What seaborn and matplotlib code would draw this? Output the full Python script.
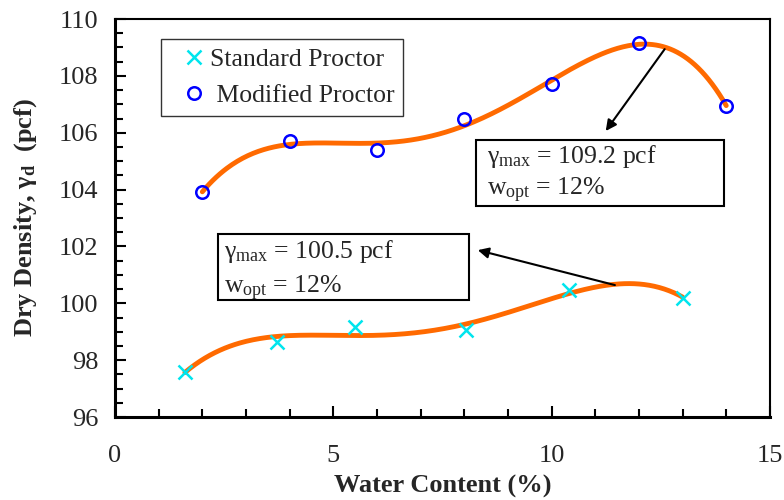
import numpy as np
import pandas as pd
import matplotlib
matplotlib.use('Agg')
import matplotlib.pyplot as plt
from matplotlib.patches import Rectangle
from matplotlib.ticker import MultipleLocator
import seaborn as sns

# values
std_w = [1.6, 3.7, 5.5, 8.05, 10.4, 13.0]
std_d = [97.6, 98.65, 99.15, 99.05, 100.45, 100.2]
mod_w = [2.0, 4.0, 6.0, 8.0, 10.0, 12.0, 14.0]
mod_d = [103.9, 105.7, 105.4, 106.5, 107.7, 109.15, 106.95]

sns.set_theme(style='ticks')
plt.rcParams['font.family'] = ['Liberation Serif', 'DejaVu Serif']
plt.rcParams['mathtext.fontset'] = 'custom'
plt.rcParams['mathtext.rm'] = 'Liberation Serif'
plt.rcParams['mathtext.it'] = 'Liberation Serif:italic'
plt.rcParams['mathtext.bf'] = 'Liberation Serif:bold'

std = pd.DataFrame({'w': std_w, 'd': std_d})
mod = pd.DataFrame({'w': mod_w, 'd': mod_d})

# smooth trendlines (polynomial fit of the points)
def trend(df, deg, n=300):
    c = np.polyfit(df['w'], df['d'], deg)
    x = np.linspace(df['w'].min(), df['w'].max(), n)
    return pd.DataFrame({'w': x, 'd': np.polyval(c, x)})

fig = plt.figure(figsize=(7.84, 5.0), dpi=100)
ax = fig.add_axes([0.1467, 0.166, 0.8353, 0.796])

orange = '#ff6a00'
sns.lineplot(data=trend(std, 4), x='w', y='d', ax=ax, color=orange, lw=3.5, zorder=2)
sns.lineplot(data=trend(mod, 4), x='w', y='d', ax=ax, color=orange, lw=3.5, zorder=2)
ax.plot(std['w'], std['d'], 'x', color='#00e5ee', ms=10, mew=1.8,
        label='Standard Proctor', zorder=3)
ax.plot(mod['w'], mod['d'], 'o', color='#0000ff', mfc='none', ms=9, mew=1.8,
        label=' Modified Proctor', zorder=3)

ax.set_xlim(0, 15)
ax.set_ylim(96, 110)
ax.xaxis.set_major_locator(MultipleLocator(5))
ax.xaxis.set_minor_locator(MultipleLocator(1))
ax.yaxis.set_major_locator(MultipleLocator(2))
ax.yaxis.set_minor_locator(MultipleLocator(0.5))
ax.tick_params(axis='x', which='both', direction='in', top=False, pad=20, labelsize=19)
ax.tick_params(axis='y', which='both', direction='in', right=False, pad=12, labelsize=19)
ax.tick_params(which='major', length=8, width=1.5, color='black')
ax.tick_params(which='minor', length=6, width=1.5, color='black')
for s in ['left', 'bottom']:
    ax.spines[s].set_linewidth(2.2)
for s in ['top', 'right']:
    ax.spines[s].set_linewidth(1.5)
for s in ax.spines.values():
    s.set_color('black')

ax.set_xlabel('Water Content (%)', fontsize=19, fontweight='bold', labelpad=6)
ax.set_ylabel(r'Dry Density, $\mathbf{\gamma_d}$  (pcf)', fontsize=19,
              fontweight='bold', labelpad=14)

leg = ax.legend(loc='upper left', bbox_to_anchor=(0.0702, 0.950), fontsize=18.5,
                frameon=True, fancybox=False, handletextpad=-0.35, borderpad=0.35,
                labelspacing=0.5, handlelength=1.9, borderaxespad=0)
leg.get_frame().set_edgecolor('black')
leg.get_frame().set_linewidth(1.0)

# annotation boxes
for x0, y0, w, h in [(8.27, 103.42, 5.68, 2.32), (2.36, 100.1, 5.75, 2.34)]:
    ax.add_patch(Rectangle((x0, y0), w, h, fc='white', ec='black', lw=1.5, zorder=4))
notes = [(8.52, 104.94, '$\\mathrm{\\gamma_{max}}$ = 109.2 pcf'),
         (8.52, 103.81, '$\\mathrm{w_{opt}}$ = 12%'),
         (2.50, 101.59, '$\\mathrm{\\gamma_{max}}$ = 100.5 pcf'),
         (2.50, 100.36, '$\\mathrm{w_{opt}}$ = 12%')]
for x, y, s in notes:
    ax.text(x, y, s, fontsize=18.5, ha='left', va='baseline', zorder=5)

arrow = dict(arrowstyle='-|>', color='black', lw=1.5, shrinkA=0, shrinkB=0,
             mutation_scale=16)
ax.annotate('', xy=(11.24, 106.06), xytext=(12.59, 108.94), arrowprops=arrow)
ax.annotate('', xy=(8.31, 101.87), xytext=(11.45, 100.64), arrowprops=arrow)

fig.savefig('out.png', dpi=100)
